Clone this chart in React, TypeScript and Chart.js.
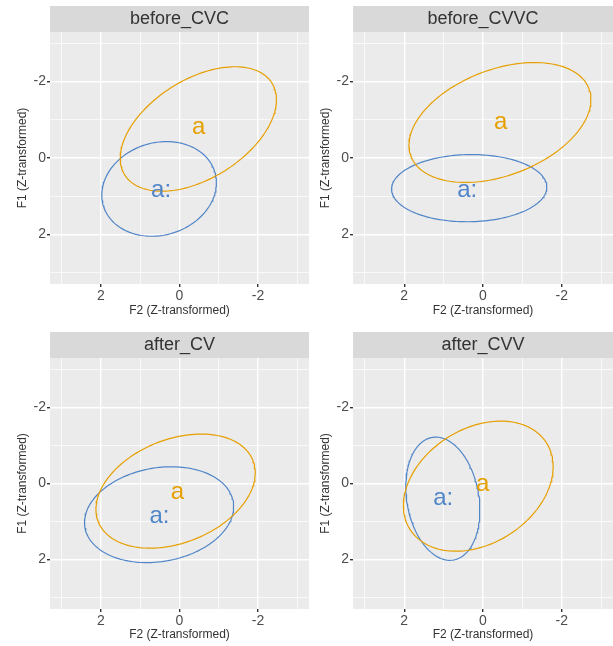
import React, { useEffect, useRef } from 'react';
import { Chart, registerables } from 'chart.js';

Chart.register(...registerables);

const FONT = "'Liberation Sans', Arial, Helvetica, sans-serif";

// facets
const PANELS = ['before_CVC', 'before_CVVC', 'after_CV', 'after_CVV'];
// vowels and their colours
const VOWELS = ['a', 'a:'];
const COLORS = ['#E69F00', '#5085C8'];

// ellipse of vowel "a" per panel: centre (F2, F1), spread (F2, F1), correlation
const A_F2 = [-0.48, -0.43, 0.1, 0.12];
const A_F1 = [-0.76, -0.93, 0.2, 0.07];
const A_SD_F2 = [1.99, 2.31, 2.03, 1.9];
const A_SD_F1 = [1.63, 1.57, 1.5, 1.71];
const A_R = [0.47, 0.38, 0.32, 0.3];

// ellipse of vowel "a:" per panel
const AA_F2 = [0.52, 0.35, 0.52, 1.02];
const AA_F1 = [0.81, 0.79, 0.82, 0.4];
const AA_SD_F2 = [1.46, 1.97, 1.9, 0.94];
const AA_SD_F1 = [1.24, 0.88, 1.26, 1.62];
const AA_R = [0.13, 0.03, 0.165, -0.19];

// label positions (F2, F1) per panel
const A_LABEL_F2 = [-0.49, -0.45, 0.05, 0.01];
const A_LABEL_F1 = [-0.8, -0.93, 0.25, 0.04];
const AA_LABEL_F2 = [0.47, 0.4, 0.51, 1.01];
const AA_LABEL_F1 = [0.87, 0.87, 0.88, 0.41];

// axes
const GRID_VALUES = [-3, -2, -1, 0, 1, 2, 3];
const TICK_LABELS = [-2, 0, 2];
const AXIS_MIN = -3.3;
const AXIS_MAX = 3.3;

function ellipse(cx: number, cy: number, sx: number, sy: number, r: number) {
  const pts: { x: number; y: number }[] = [];
  const n = 160;
  const s = Math.sqrt(1 - r * r);
  for (let i = 0; i <= n; i++) {
    const t = (i / n) * Math.PI * 2;
    pts.push({ x: cx + sx * Math.cos(t), y: cy + sy * (r * Math.cos(t) + s * Math.sin(t)) });
  }
  return pts;
}

const isMajor = (v: any) => TICK_LABELS.includes(v);

function Panel({ idx, left, top, width, height, xAxisH, xTitlePad }: any) {
  const ref = useRef<HTMLCanvasElement>(null);
  useEffect(() => {
    if (!ref.current) return;
    const ell = [
      ellipse(A_F2[idx], A_F1[idx], A_SD_F2[idx], A_SD_F1[idx], A_R[idx]),
      ellipse(AA_F2[idx], AA_F1[idx], AA_SD_F2[idx], AA_SD_F1[idx], AA_R[idx]),
    ];
    const labels = [
      { x: A_LABEL_F2[idx], y: A_LABEL_F1[idx] },
      { x: AA_LABEL_F2[idx], y: AA_LABEL_F1[idx] },
    ];
    const facetPlugin = {
      id: 'facet',
      beforeDraw(chart: any) {
        const { ctx, chartArea: a } = chart;
        ctx.save();
        ctx.fillStyle = '#EBEBEB';
        ctx.fillRect(a.left, a.top, a.right - a.left, a.bottom - a.top);
        ctx.fillStyle = '#D9D9D9';
        ctx.fillRect(a.left, a.top - 26, a.right - a.left, 26);
        ctx.fillStyle = '#333333';
        ctx.font = `18px ${FONT}`;
        ctx.textAlign = 'center';
        ctx.textBaseline = 'middle';
        ctx.fillText(PANELS[idx], (a.left + a.right) / 2, a.top - 13);
        ctx.restore();
      },
      afterDatasetsDraw(chart: any) {
        const { ctx, scales } = chart;
        ctx.save();
        ctx.font = `24px ${FONT}`;
        ctx.textAlign = 'center';
        ctx.textBaseline = 'alphabetic';
        VOWELS.forEach((v, k) => {
          ctx.fillStyle = COLORS[k];
          const px = scales.x.getPixelForValue(labels[k].x);
          const py = scales.y.getPixelForValue(labels[k].y);
          ctx.fillText(v, px, py + 6.2);
        });
        ctx.restore();
      },
    };
    const gridOpts = {
      color: '#FFFFFF',
      lineWidth: (c: any) => (c.tick && isMajor(c.tick.value) ? 1.4 : 0.7),
      tickColor: (c: any) => (c.tick && isMajor(c.tick.value) ? '#333333' : 'rgba(0,0,0,0)'),
      tickLength: 3,
      drawTicks: true,
    };
    const tickOpts = {
      autoSkip: false,
      maxRotation: 0,
      minRotation: 0,
      padding: 1,
      color: '#4D4D4D',
      font: { size: 14, family: FONT },
      callback: (v: any) => (isMajor(v) ? String(v) : ''),
    };
    const chart = new Chart(ref.current, {
      type: 'scatter',
      data: {
        datasets: VOWELS.map((v, k) => ({
          label: v,
          data: ell[k],
          showLine: true,
          borderColor: COLORS[k],
          backgroundColor: COLORS[k],
          borderWidth: 1.2,
          pointRadius: 0,
          pointHoverRadius: 0,
          fill: false,
          tension: 0,
        })),
      },
      options: {
        animation: false,
        responsive: false,
        devicePixelRatio: 1,
        layout: { padding: { top: 32, left: 0, right: 0, bottom: 0 } },
        plugins: { legend: { display: false }, tooltip: { enabled: false }, title: { display: false } },
        scales: {
          x: {
            type: 'linear',
            min: AXIS_MIN,
            max: AXIS_MAX,
            reverse: true,
            afterBuildTicks: (ax: any) => {
              ax.ticks = GRID_VALUES.map((v) => ({ value: v }));
            },
            afterFit: (ax: any) => {
              ax.height = xAxisH;
            },
            grid: gridOpts,
            border: { display: false },
            ticks: tickOpts,
            title: {
              display: true,
              text: 'F2 (Z-transformed)',
              color: '#333333',
              font: { size: 12, family: FONT },
              padding: { top: 0, bottom: xTitlePad },
            },
          },
          y: {
            type: 'linear',
            min: AXIS_MIN,
            max: AXIS_MAX,
            reverse: true,
            afterBuildTicks: (ax: any) => {
              ax.ticks = GRID_VALUES.map((v) => ({ value: v }));
            },
            afterFit: (ax: any) => {
              ax.width = 50;
            },
            grid: gridOpts,
            border: { display: false },
            ticks: tickOpts,
            title: {
              display: true,
              text: 'F1 (Z-transformed)',
              color: '#333333',
              font: { size: 12, family: FONT },
              padding: { top: 15.8, bottom: 0 },
            },
          },
        },
      } as any,
      plugins: [facetPlugin],
    });
    return () => chart.destroy();
  }, [idx, xAxisH, xTitlePad]);
  return (
    <canvas
      ref={ref}
      width={width}
      height={height}
      style={{ position: 'absolute', left, top, width, height, display: 'block' }}
    />
  );
}

export default function App() {
  return (
    <div style={{ position: 'absolute', left: 0, top: 0, width: 613, height: 646, background: '#fff', overflow: 'hidden' }}>
      <Panel idx={0} left={0} top={0} width={309} height={323} xAxisH={39} xTitlePad={4.8} />
      <Panel idx={1} left={303} top={0} width={310} height={323} xAxisH={39} xTitlePad={4.8} />
      <Panel idx={2} left={0} top={326} width={309} height={320} xAxisH={37} xTitlePad={3.8} />
      <Panel idx={3} left={303} top={326} width={310} height={320} xAxisH={37} xTitlePad={3.8} />
    </div>
  );
}
